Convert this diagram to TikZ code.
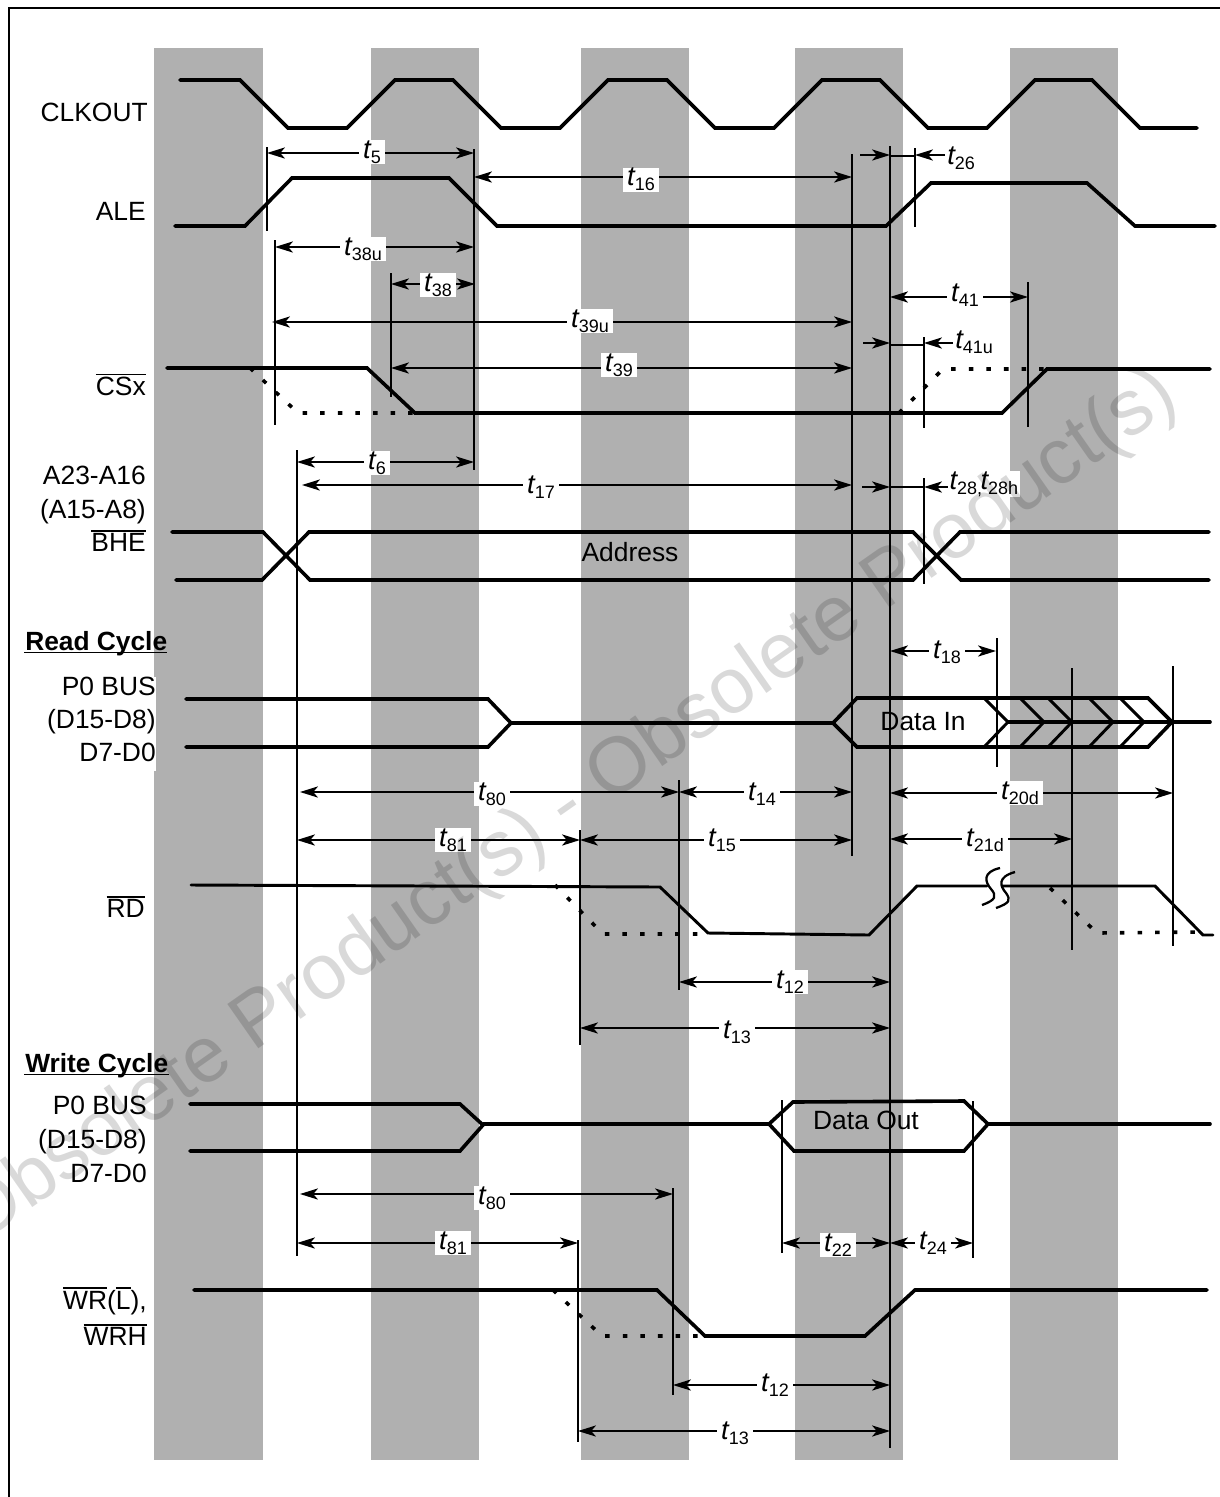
\documentclass[tikz,border=0pt]{standalone}
\usepackage{fontspec}
\setmainfont{Liberation Sans}
\usetikzlibrary{arrows.meta}
\newcommand{\tsub}[1]{{\fontsize{20.5}{22}\selectfont\itshape t}\raisebox{-3.8pt}{\fontsize{13.5}{15}\selectfont #1}}
\newcommand{\ovl}[1]{\vbox{\hrule height 1.1pt\kern 1.7pt\hbox{#1}}}
\tikzset{
  band/.style={fill=bandgray,draw=none},
  sig/.style={line width=2.7pt,line cap=round,line join=miter},
  sigthin/.style={line width=2.2pt,line cap=round,line join=miter},
  dots/.style={line width=2.7pt,dash pattern=on 3.4pt off 9.8pt},
  guide/.style={line width=1.3pt},
  dim/.style={line width=1.1pt,{Stealth[length=13.5pt,width=8.4pt,inset=3.6pt]}-{Stealth[length=13.5pt,width=8.4pt,inset=3.6pt]}},
  dimr/.style={line width=1.1pt,-{Stealth[length=13.5pt,width=8.4pt,inset=3.6pt]}},
  dimthin/.style={line width=1.1pt},
  tlab/.style={fill=white,inner xsep=3pt,inner ysep=0pt,minimum height=18pt,anchor=center},
  siglab/.style={font=\fontsize{19.8}{22}\selectfont,inner sep=0pt,anchor=east},
  head/.style={font=\fontsize{19.75}{20}\bfseries\selectfont,inner sep=0pt,anchor=base west},
  headline/.style={line width=1.3pt},
  free/.style={font=\fontsize{19.8}{22}\selectfont,inner sep=0pt},
  wm/.style={font=\fontsize{59}{66}\selectfont,black,opacity=0.15,inner sep=0pt,rotate=35}
}
\definecolor{bandgray}{HTML}{B0B0B0}
\begin{document}
\begin{tikzpicture}[x=0.75pt,y=-0.75pt]
\useasboundingbox (0,0) rectangle (1220,1497);
% frame
\draw[line width=1.9pt] (9,1497) -- (9,8) -- (1220,8);
% bands
\foreach \a/\b in {154/263,371/479,581/689,795/903,1010/1118}
  \fill[band] (\a,48) rectangle (\b,1460);
\fill[white] (154,677) rectangle (156,771);
% guides
\foreach \gx/\ga/\gb in {267/147/231, 474/149/470, 275/240/425, 391/273/397, 852/154/856, 890/146/1448,
  915/148/227, 1028/282/427, 924/337/428, 924/478/584, 297/450/1256, 997/638/767, 1072/668/950, 1173/666/946,
  679/780/990, 580/830/1045, 782/1100/1253, 973/1101/1258, 673/1188/1395, 578/1240/1442}
  \draw[guide] (\gx,\ga) -- (\gx,\gb);
% CLKOUT
\draw[sig] (180,80)--(240,80)--(288,128)--(347,128)--(395,80)--(453,80)--(501,128)--(560,128)--(608,80)--(667,80)--(715,128)--(774,128)--(822,80)--(880,80)--(928,128)--(987,128)--(1035,80)--(1092,80)--(1140,128)--(1197,128);
% ALE
\draw[sig] (175,226)--(245,226)--(292,178)--(449,178)--(497,226)--(886,226)--(931,183)--(1087,183)--(1135,226)--(1215,226);
% CSx
\draw[sig] (167,368)--(367,368)--(415,413)--(1002,413)--(1047,369)--(1210,369);
\draw[dots] (250,368)--(298,413)--(415,413);
\draw[dots] (899,413)--(943,369)--(1047,369);
% Address
\draw[sig] (172,532)--(263,532)--(310,580)--(913,580)--(960,532)--(1209,532);
\draw[sig] (176,580)--(262,580)--(309,532)--(913,532)--(961,580)--(1209,580);
% Read P0
\draw[sig] (186,699)--(488,699)--(511,723)--(488,747)--(186,747);
\draw[sig] (511,723)--(833,723)--(857,698)--(1148,698)--(1172,722)--(1148,747)--(857,747)--(833,723);
\draw[sig] (1008,722)--(1210,722);
\foreach \cx in {1008,1044,1072,1113,1144}
  \draw[sigthin] (\cx-24,698)--(\cx,722)--(\cx-24,747);
% RD
\draw[sigthin] (191,885)--(660,887)--(708,933)--(869,935)--(917,886)--(987,886);
\draw[sigthin] (1002,886)--(1155,886)--(1203,935)--(1213,935);
\draw[dots] (555,885)--(603,934)--(708,934);
\draw[dots] (1050,888)--(1097,933)--(1200,932);
\draw[line width=1.7pt] (1000,868) .. controls (982,872) and (985,882) .. (991,889) .. controls (997,896) and (996,900) .. (982,905);
\draw[line width=1.7pt] (1015,872) .. controls (997,877) and (1000,886) .. (1006,893) .. controls (1011,900) and (1010,903) .. (996,908);
% Write P0
\draw[sig] (190,1104)--(460,1104)--(483,1125)--(460,1151)--(190,1151);
\draw[sig] (483,1124)--(769,1124)--(793,1102)--(964,1101)--(988,1124)--(964,1151)--(794,1151)--(769,1124);
\draw[sig] (988,1124)--(1210,1124);
% WR
\draw[sig] (194,1290)--(657,1290)--(705,1336)--(865,1336)--(915,1290)--(1207,1290);
\draw[dots] (553,1290)--(602,1336)--(705,1336);
% dimensions
\draw[dim] (267,153)--(474,153);
\draw[dim] (474,177)--(852,177);
\draw[dimr] (860,155)--(890,155);
\draw[dimthin] (890,156)--(915,156);
\draw[dimr] (945,155)--(915,155);
\draw[dim] (275,247)--(474,247);
\draw[dim] (391,284)--(475,284);
\draw[dim] (272,322)--(852,322);
\draw[dim] (391,368)--(852,368);
\draw[dim] (890,297)--(1028,297);
\draw[dimr] (863,343)--(890,343);
\draw[dimthin] (890,345)--(924,345);
\draw[dimr] (953,343)--(924,343);
\draw[dim] (297,462)--(474,462);
\draw[dim] (302,485)--(852,485);
\draw[dimr] (862,487)--(890,487);
\draw[dimthin] (890,487)--(924,487);
\draw[dimr] (950,487)--(924,487);
\draw[dim] (890,651)--(996,651);
\draw[dim] (300,792)--(679,792);
\draw[dim] (679,792)--(852,792);
\draw[dim] (890,793)--(1173,793);
\draw[dim] (297,840)--(580,840);
\draw[dim] (580,840)--(852,840);
\draw[dim] (890,839)--(1072,839);
\draw[dim] (679,982)--(890,982);
\draw[dim] (580,1028)--(890,1028);
\draw[dim] (300,1194)--(673,1194);
\draw[dim] (297,1243)--(578,1243);
\draw[dim] (782,1243)--(890,1243);
\draw[dim] (890,1243)--(973,1243);
\draw[dim] (673,1385)--(890,1385);
\draw[dim] (578,1431)--(890,1431);
% t labels
\node[tlab] (t5) at (372,152) {\tsub{5}};
\node[tlab] (t16) at (641,179.5) {\tsub{16}};
\node[tlab,fill=none,anchor=west] (t26) at (943,158) {\tsub{26}};
\node[tlab] (t38u) at (363,249) {\tsub{38u}};
\node[tlab] (t38) at (438,285) {\tsub{38}};
\node[tlab] (t39u) at (590,321) {\tsub{39u}};
\node[tlab] (t39) at (619,365) {\tsub{39}};
\node[tlab] (t41) at (965,295) {\tsub{41}};
\node[tlab,fill=none,anchor=west] (t41u) at (951,342) {\tsub{41u}};
\node[tlab] (t6) at (377,463) {\tsub{6}};
\node[tlab] (t17) at (541,487) {\tsub{17}};
\node[tlab,anchor=west,inner xsep=1pt] (t28) at (948,484) {\tsub{28,}\kern-1.2pt\tsub{28h}};
\node[tlab] (t18) at (947,652) {\tsub{18}};
\node[tlab] (t80a) at (492,794) {\tsub{80}};
\node[tlab] (t14) at (762,794) {\tsub{14}};
\node[tlab] (t20d) at (1020,793) {\tsub{20d}};
\node[tlab] (t81a) at (453,840) {\tsub{81}};
\node[tlab] (t15) at (722,840) {\tsub{15}};
\node[tlab] (t21d) at (985,840) {\tsub{21d}};
\node[tlab] (t12a) at (790,982) {\tsub{12}};
\node[tlab] (t13a) at (737,1032) {\tsub{13}};
\node[tlab] (t80b) at (492,1198) {\tsub{80}};
\node[tlab] (t81b) at (453,1243) {\tsub{81}};
\node[tlab] (t22) at (838,1245) {\tsub{22}};
\node[tlab] (t24) at (933,1243) {\tsub{24}};
\node[tlab] (t12b) at (775,1385) {\tsub{12}};
\node[tlab] (t13b) at (735,1433) {\tsub{13}};
% signal labels
\node[siglab] (clk) at (148,112) {CLKOUT};
\node[siglab] (ale) at (146,211) {ALE};
\node[siglab] (cs) at (146,385) {\ovl{CSx}};
\node[siglab] (a1) at (146,475) {A23-A16};
\node[siglab] (a2) at (146,512) {(A15-A8)};
\node[siglab] (a3) at (146,541) {\ovl{BHE}};
\node[head] (rc) at (25,650) {Read Cycle};
\draw[headline] (24,652.5) -- (167,652.5);
\node[siglab] (r1) at (156,686) {P0 BUS};
\node[siglab] (r2) at (156,722) {(D15-D8)};
\node[siglab] (r3) at (156,752) {D7-D0};
\node[siglab] (rd) at (145,907) {\ovl{RD}};
\node[head] (wc) at (25,1072) {Write Cycle};
\draw[headline] (24,1074.5) -- (169,1074.5);
\node[siglab] (w1) at (147,1105) {P0 BUS};
\node[siglab] (w2) at (147,1142) {(D15-D8)};
\node[siglab] (w3) at (147,1173) {D7-D0};
\node[siglab] (wr1) at (147,1301) {\ovl{WR}(\ovl{L}),};
\node[siglab] (wr2) at (147,1335) {\ovl{WRH}};
\node[free] (addr) at (630,552) {Address};
\node[free] (din) at (923,722) {Data In};
\node[free] (dout) at (866,1120) {Data Out};
% watermark
\begin{scope}
\clip (0,0) rectangle (1220,1497);
\node[wm] (wmark) at (568,808) {Obsolete Product(s) - Obsolete Product(s)};
\end{scope}
\end{tikzpicture}
\end{document}
